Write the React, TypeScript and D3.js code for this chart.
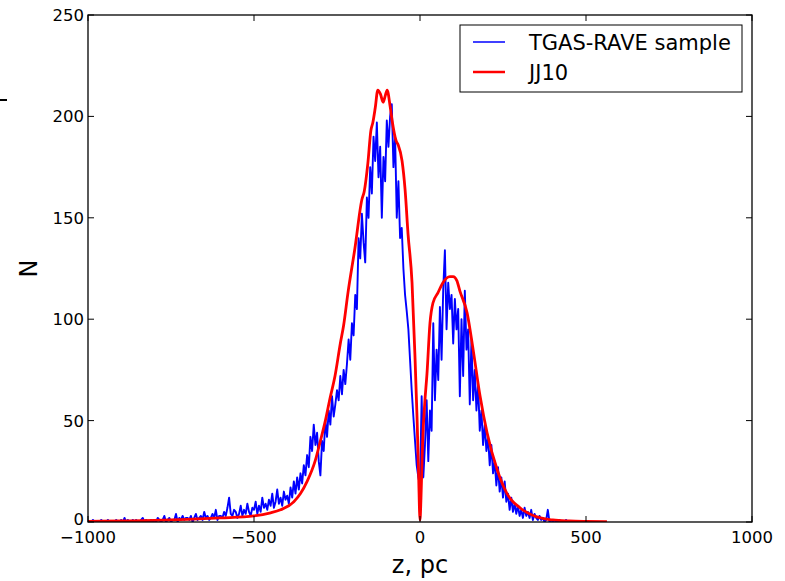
import React from "react";
import * as d3 from "d3";

// ---------- data ----------
const xTicks = [-1000, -500, 0, 500, 1000];
const yTicks = [0, 50, 100, 150, 200, 250];

// TGAS-RAVE sample histogram: bin centres start at blueStart, step blueStep (pc)
const blueStart = -1000;
const blueStep = 5;
const blueCounts = [
  // -1000 .. -905
  0, 0, 0, 1, 0, 0, 0, 0, 1, 0, 0, 0, 1, 0, 0, 0, 0, 1, 0, 0,
  // -900 .. -805
  1, 0, 2, 0, 1, 0, 0, 1, 0, 1, 0, 0, 1, 2, 0, 1, 0, 0, 1, 0,
  // -800 .. -705
  1, 0, 2, 1, 0, 1, 3, 0, 1, 2, 0, 1, 1, 4, 0, 2, 1, 3, 1, 2,
  // -700 .. -605
  2, 1, 3, 0, 2, 4, 1, 2, 3, 1, 5, 2, 3, 1, 2, 4, 2, 6, 1, 3,
  // -600 .. -505
  3, 2, 5, 3, 7, 12, 4, 3, 6, 5, 2, 4, 8, 3, 6, 4, 9, 5, 3, 7,
  // -500 .. -405
  6, 10, 4, 8, 5, 12, 7, 9, 6, 11, 8, 14, 7, 10, 16, 9, 12, 8, 15, 11,
  // -400 .. -305
  13, 9, 17, 12, 20, 14, 22, 16, 24, 19, 28, 23, 33, 27, 42, 35, 48, 38, 44, 30,
  // -300 .. -205
  23, 40, 35, 50, 42, 55, 48, 62, 52, 58, 65, 60, 72, 63, 75, 68, 78, 90, 80, 98,
  // -200 .. -105
  92, 112, 105, 140, 130, 152, 138, 128, 160, 150, 175, 162, 190, 178, 197, 170, 185, 150, 180, 168,
  // -100 .. -5
  198, 185, 200, 206, 175, 190, 150, 168, 140, 145, 125, 112, 104, 95, 80, 65, 52, 40, 28, 22,
  // 0 .. 95
  18, 62, 22, 38, 60, 30, 55, 45, 98, 60, 85, 70, 106, 80, 115, 134, 95, 118, 105, 112,
  // 100 .. 195
  88, 110, 95, 105, 62, 100, 72, 114, 85, 95, 58, 90, 60, 75, 55, 68, 45, 55, 38, 48,
  // 200 .. 295
  35, 42, 28, 38, 24, 30, 18, 27, 15, 22, 12, 20, 10, 14, 6, 12, 5, 9, 4, 8,
  // 300 .. 395
  3, 6, 2, 7, 3, 5, 2, 6, 1, 4, 2, 1, 3, 1, 2, 0, 1, 6, 0, 1,
  // 400 .. 450
  0, 1, 0, 0, 1, 0, 0, 0, 1, 0, 0,
];

// JJ10 model curve (z in pc, N)
const redZ = [
  -1000, -900, -800, -700, -600, -500, -450, -420, -380, -360, -340, -316, -300, -285,
  -271, -256, -240, -230, -217, -196, -175, -168, -157, -148, -142, -135, -127, -119,
  -111, -105, -99, -90, -84, -72, -66, -54, -45, -36, -24, -15, -9, -4, 0, 3, 8, 14,
  21, 30, 39, 54, 69, 90, 100, 111, 120, 142, 160, 181, 202, 232, 262, 301, 352, 400,
  450, 500, 563,
];
const redN = [
  0.3, 0.5, 0.8, 1.3, 2, 3, 4.5, 6, 10, 14, 20, 30, 40, 50,
  61, 72, 88, 97, 113, 135, 159, 163, 177, 193, 197, 204, 213, 211,
  207, 210, 213, 205, 198, 188, 186, 178, 164, 142, 118, 81, 52, 22, 1, 12, 40, 58,
  73, 98, 108, 113, 118, 121, 121, 119, 114, 103, 85, 62, 44, 26, 14, 7, 2.5, 1,
  0.5, 0.3, 0.2,
];

const legendLabels = ["TGAS-RAVE sample", "JJ10"];
const seriesColors = ["#0000ff", "#ff0000"];

// ---------- layout ----------
const W = 785;
const H = 581;
const L = 88;
const R = 752;
const T = 15;
const B = 522;
const FONT = "'DejaVu Sans', sans-serif";

export default function App() {
  const x = d3.scaleLinear().domain([-1000, 1000]).range([L, R]);
  const y = d3.scaleLinear().domain([0, 250]).range([B, T]);

  const bluePts: [number, number][] = blueCounts.map((v, i) => [blueStart + i * blueStep, v]);
  const redPts: [number, number][] = redZ.map((z, i) => [z, redN[i]]);

  const blueLine = d3
    .line<[number, number]>()
    .x((d) => x(d[0]))
    .y((d) => y(d[1]));
  const redLine = d3
    .line<[number, number]>()
    .x((d) => x(d[0]))
    .y((d) => y(d[1]))
    .curve(d3.curveMonotoneX);

  const tickLen = 6;

  return (
    <svg
      width={W}
      height={H}
      style={{ position: "absolute", left: 0, top: 0, background: "#fff" }}
      fontFamily={FONT}
    >
      <rect x={0} y={0} width={W} height={H} fill="#fff" />
      <defs>
        <clipPath id="plotClip">
          <rect x={L} y={T} width={R - L} height={B - T} />
        </clipPath>
      </defs>

      {/* stray mark at left edge */}
      <line x1={0} x2={7} y1={100} y2={100} stroke="#000" strokeWidth={2} />

      <g clipPath="url(#plotClip)">
        <path d={blueLine(bluePts) || ""} fill="none" stroke={seriesColors[0]} strokeWidth={1.9} strokeLinejoin="round" />
        <path d={redLine(redPts) || ""} fill="none" stroke={seriesColors[1]} strokeWidth={2.8} strokeLinejoin="round" />
      </g>

      {/* frame */}
      <rect x={L} y={T} width={R - L} height={B - T} fill="none" stroke="#000" strokeWidth={1.3} />

      {/* x ticks */}
      {xTicks.map((t) => (
        <g key={"xt" + t}>
          <line x1={x(t)} x2={x(t)} y1={B} y2={B - tickLen} stroke="#000" strokeWidth={1} />
          <line x1={x(t)} x2={x(t)} y1={T} y2={T + tickLen} stroke="#000" strokeWidth={1} />
          <text x={x(t)} y={543} textAnchor="middle" fontSize={16.5} fill="#000">
            {t < 0 ? "\u2212" + Math.abs(t) : String(t)}
          </text>
        </g>
      ))}

      {/* y ticks */}
      {yTicks.map((t) => (
        <g key={"yt" + t}>
          <line x1={L} x2={L + tickLen} y1={y(t)} y2={y(t)} stroke="#000" strokeWidth={1} />
          <line x1={R} x2={R - tickLen} y1={y(t)} y2={y(t)} stroke="#000" strokeWidth={1} />
          <text x={84} y={t === 0 ? y(t) + 3 : y(t) + 6} textAnchor="end" fontSize={16.5} fill="#000">
            {String(t)}
          </text>
        </g>
      ))}

      {/* axis labels */}
      <text x={(L + R) / 2} y={573} textAnchor="middle" fontSize={24} fill="#000">
        z, pc
      </text>
      <text
        transform={`translate(37, ${(T + B) / 2}) rotate(-90)`}
        textAnchor="middle"
        fontSize={24}
        fill="#000"
      >
        N
      </text>

      {/* legend */}
      <rect x={460} y={25} width={282} height={67} fill="#fff" stroke="#000" strokeWidth={1} />
      {legendLabels.map((lab, i) => (
        <g key={lab}>
          <line
            x1={473}
            x2={505}
            y1={42 + i * 30}
            y2={42 + i * 30}
            stroke={seriesColors[i]}
            strokeWidth={i === 0 ? 1.5 : 2.5}
          />
          <text x={529} y={49.5 + i * 30} fontSize={21} fill="#000">
            {lab}
          </text>
        </g>
      ))}
    </svg>
  );
}
